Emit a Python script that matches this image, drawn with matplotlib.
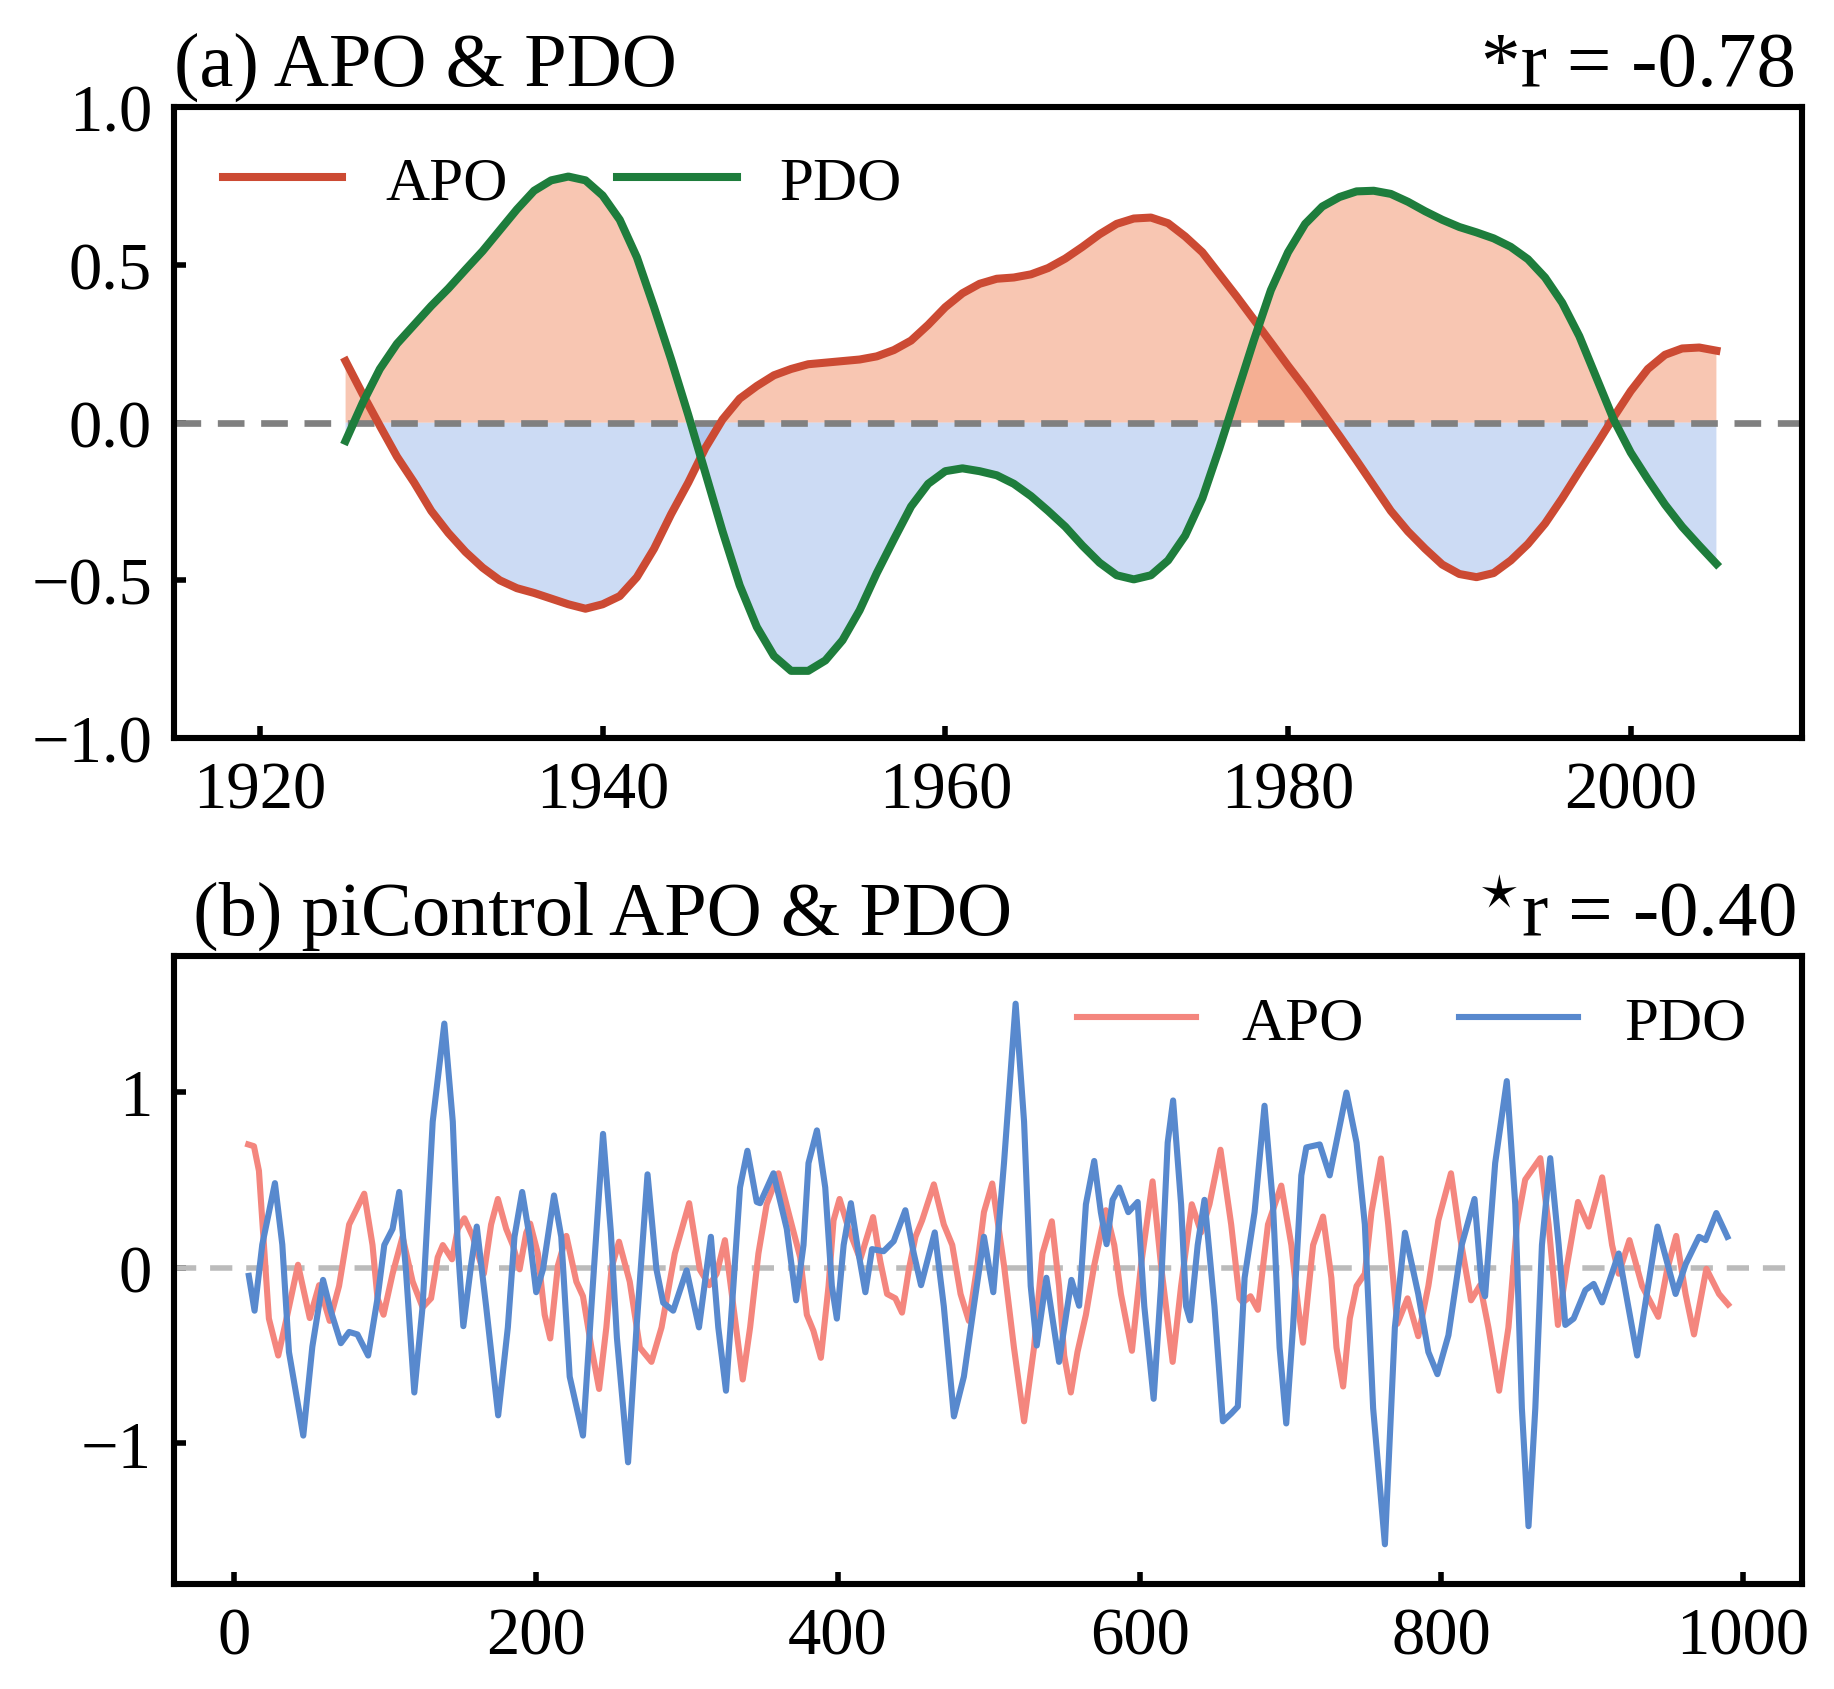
import numpy as np
import matplotlib
matplotlib.use("Agg")
import matplotlib.pyplot as plt
from matplotlib.transforms import offset_copy

plt.rcParams["font.family"] = ["Liberation Serif", "DejaVu Serif"]
plt.rcParams["mathtext.fontset"] = "stix"

# (a) observed APO & PDO, annual 1925-2005
years = np.arange(1925, 2006)
apo_obs = [0.195, 0.09, -0.01, -0.108, -0.19, -0.28, -0.35, -0.41, -0.46, -0.50,
           -0.525, -0.54, -0.558, -0.576, -0.59, -0.576, -0.55, -0.49, -0.40, -0.29,
           -0.19, -0.08, 0.01, 0.076, 0.116, 0.15, 0.17, 0.185, 0.19, 0.195,
           0.20, 0.21, 0.23, 0.26, 0.31, 0.366, 0.41, 0.44, 0.456, 0.46,
           0.47, 0.49, 0.52, 0.557, 0.597, 0.63, 0.647, 0.65, 0.632, 0.59,
           0.54, 0.47, 0.40, 0.327, 0.254, 0.18, 0.109, 0.034, -0.042, -0.12,
           -0.20, -0.28, -0.345, -0.40, -0.45, -0.48, -0.49, -0.477, -0.437, -0.385,
           -0.32, -0.24, -0.154, -0.07, 0.017, 0.10, 0.17, 0.215, 0.235, 0.238,
           0.228]
pdo_obs = [-0.058, 0.063, 0.17, 0.25, 0.31, 0.37, 0.425, 0.485, 0.544, 0.61,
           0.676, 0.735, 0.768, 0.78, 0.768, 0.72, 0.643, 0.524, 0.366, 0.20,
           0.024, -0.16, -0.345, -0.516, -0.648, -0.74, -0.787, -0.787, -0.754, -0.69,
           -0.595, -0.477, -0.37, -0.266, -0.194, -0.154, -0.145, -0.154, -0.167, -0.194,
           -0.233, -0.28, -0.33, -0.39, -0.444, -0.484, -0.497, -0.484, -0.437, -0.358,
           -0.24, -0.08, 0.09, 0.26, 0.42, 0.54, 0.63, 0.685, 0.715, 0.733,
           0.735, 0.725, 0.70, 0.67, 0.643, 0.62, 0.603, 0.584, 0.557, 0.518,
           0.46, 0.38, 0.274, 0.142, 0.01, -0.095, -0.18, -0.26, -0.33, -0.39,
           -0.448]

# (b) piControl, turning points
pdo_pi_x = [9.5, 13.3, 18.4, 26.8, 31.7, 36.1, 45.6, 51.6, 58.7, 63.8, 70.5, 76, 81.5, 88.6,
            94.8, 99.3, 104.8, 109.2, 113.6, 119.2, 124.7, 131.4, 139.1, 144.7, 148, 151.7,
            156.8, 160.6, 166.8, 174.8, 181.2, 185.6, 190.7, 195.6, 200, 204.5, 211.8, 216.6,
            222.2, 231, 236.6, 244.3, 249.5, 253.5, 260.9, 266.5, 273.8, 279.7, 284.2, 290.8,
            299.7, 307.9, 315.8, 320.7, 325.8, 330.7, 335.1, 340, 346.2, 348.4, 357.3, 366.1,
            372.3, 377.2, 380.5, 386.1, 391.6, 396, 399.3, 403.8, 408.6, 413.7, 418.2, 422.6,
            430.3, 437, 444.7, 450.3, 455.1, 464.2, 470.2, 476.9, 483.5, 490.1, 496.8, 503,
            510.1, 517.8, 523.4, 527.8, 531.8, 538.2, 546.6, 554.8, 559.9, 564.4, 569.9, 574.3,
            578.1, 582.1, 586.5, 592.5, 598.7, 603.1, 609.3, 614.2, 618.6, 622.2, 627.5, 630.8,
            633.5, 638.5, 643, 649.6, 655.2, 660.7, 665.1, 669.6, 676.2, 682.8, 688.4, 692.8,
            697.2, 701.7, 707.2, 710.5, 719.4, 726, 737.1, 743.8, 749.3, 754.8, 762.6, 769.2,
            775.9, 784.7, 791.4, 797.4, 804.7, 813.5, 822, 826.8, 829, 835.7, 843.4, 849,
            853.4, 857.8, 862.3, 866.7, 872.2, 877.8, 882.2, 887.7, 895.5, 901, 906.6, 917.6,
            929.8, 943.3, 955.3, 962, 970.8, 975.2, 982.3, 989.6]
pdo_pi_y = [-0.047, -0.245, 0.13, 0.48, 0.13, -0.48, -0.955, -0.45, -0.07, -0.245, -0.43, -0.366, -0.38, -0.50,
            -0.175, 0.128, 0.22, 0.43, -0.01, -0.71, -0.22, 0.83, 1.387, 0.83, 0.128, -0.333,
            0.012, 0.233, -0.22, -0.84, -0.34, 0.175, 0.43, 0.175, -0.14, -0.01, 0.41, 0.175,
            -0.62, -0.955, -0.22, 0.76, 0.2, -0.4, -1.107, -0.34, 0.53, -0.01, -0.20, -0.245,
            -0.016, -0.34, 0.175, -0.34, -0.70, -0.105, 0.455, 0.664, 0.373, 0.366, 0.536, 0.22,
            -0.186, 0.128, 0.594, 0.78, 0.455, -0.105, -0.29, 0.128, 0.366, 0.08, -0.14, 0.105,
            0.093, 0.15, 0.326, 0.08, -0.10, 0.20, -0.22, -0.846, -0.62, -0.22, 0.175, -0.14,
            0.594, 1.50, 0.83, -0.105, -0.443, -0.058, -0.536, -0.07, -0.217, 0.36, 0.606, 0.315,
            0.133, 0.385, 0.455, 0.315, 0.373, -0.22, -0.746, -0.105, 0.71, 0.95, 0.36, -0.22,
            -0.30, 0.128, 0.385, -0.22, -0.874, -0.83, -0.79, -0.058, 0.315, 0.92, 0.36, -0.455,
            -0.886, -0.34, 0.524, 0.683, 0.70, 0.524, 0.995, 0.71, 0.245, -0.80, -1.573, -0.34,
            0.198, -0.15, -0.48, -0.606, -0.385, 0.128, 0.39, -0.105, -0.163, 0.594, 1.06, 0.36,
            -0.80, -1.47, -0.80, 0.128, 0.622, 0.128, -0.326, -0.29, -0.128, -0.093, -0.198, 0.08,
            -0.50, 0.233, -0.15, 0.02, 0.175, 0.156, 0.31, 0.175]

apo_pi_x = [9.1, 12.9, 16.2, 19.5, 22.8, 29, 35, 42.1, 49.9, 56.1, 63.1, 69.3, 76, 86,
            91.5, 94.8, 98.8, 104.8, 111.4, 118.1, 124.7, 130.3, 134.7, 138.1, 144.2, 148,
            152.4, 158, 165.3, 170.1, 174.6, 180.1, 184.5, 189, 193.4, 196, 201.1, 205.6, 209.3,
            214.4, 220, 226.6, 231, 236.6, 241.7, 246.5, 250, 254.9, 262, 268.7, 276.4, 283.1,
            291.9, 301.4, 308.5, 314.7, 319.6, 325.1, 330.7, 336.9, 341.8, 347.3, 352.8, 360.6,
            367.2, 375, 379.4, 383.8, 388.7, 393.8, 397.1, 401.1, 407.1, 414.8, 423.3, 428.1,
            432.6, 438.1, 442.5, 447, 451.4, 455.8, 463.6, 470.2, 475.8, 481.3, 486.8, 492.4,
            496.8, 502.3, 510.1, 516.7, 523.4, 530, 535.6, 541.8, 546.6, 550, 554.4, 558.8,
            564.4, 569.9, 577.6, 583.2, 587.6, 594.9, 600.9, 608.6, 614.2, 621.9, 627.5, 634.6,
            640.8, 646.3, 653.6, 660.7, 666.2, 668.4, 673.5, 678.4, 685.1, 693.9, 700.6, 705,
            708.3, 715, 721.6, 727.1, 730.5, 734.9, 739.3, 743.8, 749.3, 753.7, 760, 764.8,
            770.8, 777.6, 784.7, 791.4, 798, 806.4, 812.4, 819.7, 825.7, 831.2, 838.3, 844.5,
            850.1, 855.6, 865.6, 871.1, 877.3, 883.3, 890.6, 897.7, 906.6, 913.2, 917.6, 924.7,
            933.1, 943.8, 949.7, 955.7, 961.9, 967.5, 975.7, 984.1, 990.1]
apo_pi_y = [0.70, 0.69, 0.55, 0.128, -0.29, -0.50, -0.27, 0.016, -0.287, -0.10, -0.303, -0.105, 0.245, 0.42,
            0.128, -0.175, -0.268, -0.035, 0.175, -0.08, -0.226, -0.175, 0.058, 0.128, 0.047, 0.22,
            0.28, 0.175, -0.035, 0.245, 0.39, 0.22, 0.128, -0.01, 0.198, 0.25, 0.08, -0.268, -0.403,
            0.012, 0.18, -0.08, -0.163, -0.455, -0.69, -0.34, 0.0, 0.147, -0.08, -0.455, -0.536, -0.34,
            0.08, 0.366, -0.012, -0.10, -0.035, 0.156, -0.22, -0.636, -0.34, 0.08, 0.36, 0.536,
            0.315, 0.058, -0.268, -0.36, -0.513, -0.105, 0.268, 0.39, 0.22, 0.047, 0.287, 0.035,
            -0.15, -0.175, -0.256, -0.012, 0.175, 0.268, 0.473, 0.245, 0.128, -0.15, -0.303, 0.012,
            0.315, 0.478, 0.012, -0.455, -0.874, -0.455, 0.08, 0.263, -0.105, -0.50, -0.71, -0.48,
            -0.268, 0.012, 0.326, 0.128, -0.15, -0.473, 0.012, 0.49, 0.012, -0.536, -0.105, 0.36,
            0.20, 0.36, 0.67, 0.245, -0.175, -0.198, -0.163, -0.24, 0.245, 0.466, 0.128, -0.22,
            -0.427, 0.128, 0.29, -0.058, -0.455, -0.676, -0.29, -0.105, -0.035, 0.315, 0.62, 0.245,
            -0.32, -0.175, -0.39, -0.105, 0.268, 0.536, 0.175, -0.186, -0.10, -0.34, -0.70, -0.34,
            0.245, 0.50, 0.622, 0.245, -0.326, 0.012, 0.373, 0.233, 0.513, 0.128, -0.035, 0.156,
            -0.105, -0.28, -0.012, 0.18, -0.15, -0.38, -0.007, -0.15, -0.21]

apo_obs = np.array(apo_obs)
pdo_obs = np.array(pdo_obs)

fig = plt.figure(figsize=(9.17, 8.45), dpi=200)
ax1 = fig.add_axes([0.095, 0.5627, 0.8876, 0.3733])
ax2 = fig.add_axes([0.095, 0.0620, 0.8876, 0.3716])

red_fill = "#f4a07f"
blue_fill = "#9ab8ea"
for y in (apo_obs, pdo_obs):
    ax1.fill_between(years, 0, y, where=y > 0, interpolate=True,
                     color=red_fill, alpha=0.6, lw=0)
    ax1.fill_between(years, 0, y, where=y < 0, interpolate=True,
                     color=blue_fill, alpha=0.5, lw=0)
ax1.axhline(0, color="#808080", ls="--", lw=2.4, dashes=(4, 2.5))
ax1.plot(years, apo_obs, color="#cc4a33", lw=2.9, label="APO")
ax1.plot(years, pdo_obs, color="#1e7d3c", lw=2.9, label="PDO")
ax1.set_xlim(1915, 2010)
ax1.set_ylim(-1, 1)
ax1.set_xticks([1920, 1940, 1960, 1980, 2000])
ax1.set_yticks([-1.0, -0.5, 0.0, 0.5, 1.0])
ax1.set_title("(a) APO & PDO", loc="left", fontsize=27.5, pad=8)
ax1.legend(loc="upper left", ncol=2, frameon=False, fontsize=22,
           handlelength=1.95, handletextpad=0.7, columnspacing=1.8,
           borderaxespad=0.4)

ax2.axhline(0, color="#bbbbbb", ls="--", lw=2, dashes=(4, 2.5))
ax2.plot(apo_pi_x, apo_pi_y, color="#f4867e", lw=2.2, label="APO")
ax2.plot(pdo_pi_x, pdo_pi_y, color="#5889ce", lw=2.2, label="PDO")
ax2.set_ylim(-1.8, 1.77)
ax2.set_xticks([0, 200, 400, 600, 800, 1000])
ax2.set_yticks([-1, 0, 1])
ax2.set_title(" (b) piControl APO & PDO", loc="left", fontsize=27.5, pad=8)
ax2.legend(loc="upper right", bbox_to_anchor=(0.99, 1.0), ncol=2, frameon=False,
           fontsize=22, handlelength=1.95, handletextpad=0.75, columnspacing=1.55,
           borderaxespad=0.25)

# correlation labels, right-aligned just inside the axes edge
for ax, txt in ((ax1, "*r = -0.78"), (ax2, "$^{\\star}$r = -0.40")):
    tr = offset_copy(ax.transAxes, fig=fig, x=0, y=8, units="points")
    ax.text(0.996, 1.0, txt, transform=tr, ha="right", va="baseline", fontsize=28.5)

for ax in (ax1, ax2):
    ax.tick_params(direction="in", length=4.4, width=2.0, labelsize=24, pad=8)
    for s in ax.spines.values():
        s.set_linewidth(2.2)

fig.savefig("out.png", dpi=200)
